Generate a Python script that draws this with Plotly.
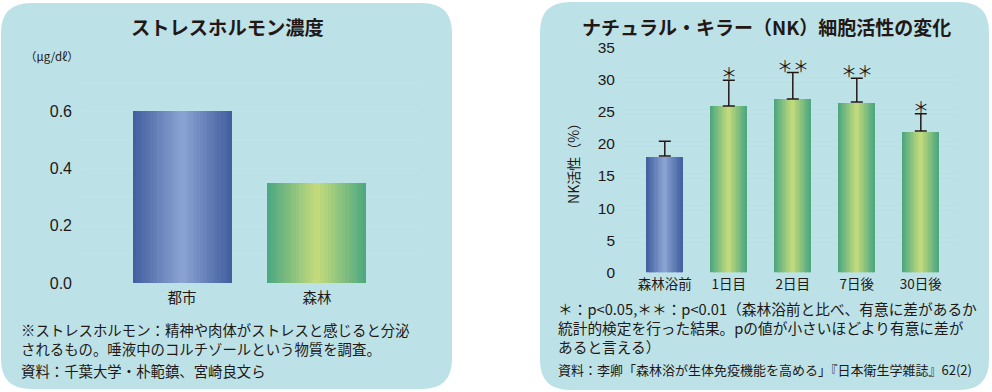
import plotly.graph_objects as go

# ---------------- data ----------------
stress_categories = ["都市", "森林"]
stress_values = [0.60, 0.35]
stress_tickvals = [0.0, 0.2, 0.4, 0.6]
stress_ticktext = ["0.0", "0.2", "0.4", "0.6"]
stress_minor_grid = [0.1, 0.3, 0.5, 0.7]

nk_categories = ["森林浴前", "1日目", "2日目", "7日後", "30日後"]
nk_values = [18.1, 25.9, 27.0, 26.5, 22.0]
nk_errors = [2.3, 4.0, 4.1, 3.7, 2.7]
nk_signif = ["", "＊", "＊＊", "＊＊", "＊"]
nk_tickvals = [0, 5, 10, 15, 20, 25, 30, 35]

# ---------------- styles ----------------
W, H = 992, 392
PANEL = "#BCE2E8"
GRID = "#BEE3EA"
INK = "#231815"
JP = "Noto Sans CJK JP"
NUM = "Liberation Sans, Arial, sans-serif"
BLUE = ((64, 94, 158), (140, 164, 212))
GREEN = ((74, 166, 128), (198, 220, 124))


def px_x(x):
    return x / W


def px_y(y):
    return 1 - y / H


def rounded_rect(x0, y0, x1, y1, r):
    rx, ry = r / W, r / H
    X0, X1 = px_x(x0), px_x(x1)
    Y0, Y1 = px_y(y1), px_y(y0)  # bottom, top in paper
    return (f"M {X0+rx} {Y1} L {X1-rx} {Y1} Q {X1} {Y1} {X1} {Y1-ry} "
            f"L {X1} {Y0+ry} Q {X1} {Y0} {X1-rx} {Y0} "
            f"L {X0+rx} {Y0} Q {X0} {Y0} {X0} {Y0+ry} "
            f"L {X0} {Y1-ry} Q {X0} {Y1} {X0+rx} {Y1} Z")


def mix(c0, c1, f):
    return "rgb(%d,%d,%d)" % tuple(round(a + (b - a) * f) for a, b in zip(c0, c1))


def gradient_bars(fig, xs, ys, width, palettes, xa, ya, n=28):
    step = width / n
    for i in range(n):
        t = (i + 0.5) / n
        f = 1 - abs(2 * t - 1)
        colors = [mix(p[0], p[1], f) for p in palettes]
        w = step * 1.25 if i < n - 1 else step
        fig.add_trace(go.Bar(
            x=xs, y=ys, xaxis=xa, yaxis=ya,
            width=[w] * len(xs), offset=[-width / 2 + i * step] * len(xs),
            marker=dict(color=colors, line=dict(width=0)),
            showlegend=False, hoverinfo="skip"))


fig = go.Figure()

# ---------- left chart ----------
sx = list(range(len(stress_categories)))
gradient_bars(fig, sx, stress_values, 0.734, [BLUE, GREEN], "x", "y")

# ---------- right chart ----------
nx = list(range(len(nk_categories)))
gradient_bars(fig, nx, nk_values, 0.5625,
              [BLUE] + [GREEN] * (len(nk_categories) - 1), "x2", "y2")
fig.add_trace(go.Scatter(
    x=nx, y=nk_values, xaxis="x2", yaxis="y2", mode="markers",
    marker=dict(size=1, color="rgba(0,0,0,0)"),
    error_y=dict(type="data", array=nk_errors, arrayminus=[0] * len(nk_errors),
                 symmetric=False, color=INK, thickness=1.5, width=6),
    showlegend=False, hoverinfo="skip"))

annotations = []
for xi, v, e, s in zip(nx, nk_values, nk_errors, nk_signif):
    if s:
        annotations.append(dict(x=xi, y=v + e, xref="x2", yref="y2", text=s,
                                showarrow=False, xanchor="center", yanchor="middle",
                                yshift=8, font=dict(family=JP, size=16, color=INK)))


def note(x, y, text, size, anchor="left", bold=False, yanchor="middle"):
    return dict(x=px_x(x), y=px_y(y), xref="paper", yref="paper",
                text=f"<b>{text}</b>" if bold else text, showarrow=False,
                xanchor=anchor, yanchor=yanchor, align="left",
                font=dict(family=JP, size=size, color=INK))


# titles
annotations.append(note(227, 27, "ストレスホルモン濃度", 19.3, "center", True))
annotations.append(note(766, 26, "ナチュラル・キラー（NK）細胞活性の変化", 19, "center", True))
# unit
annotations.append(note(52, 56, "（μg/dℓ）", 11.5, "center"))
# notes (left)
left_notes = [("※ストレスホルモン：精神や肉体がストレスと感じると分泌", 329.3),
              ("されるもの。唾液中のコルチゾールという物質を調査。", 348.8),
              ("資料：千葉大学・朴範鎮、宮崎良文ら", 370)]
for t, y in left_notes:
    annotations.append(note(19, y, t, 14.4))
# notes (right)
annotations.append(note(556, 327.5, "＊：p&lt;0.05,＊＊：p&lt;0.01（森林浴前と比べ、有意に差があるか<br>"
                                    "統計的検定を行った結果。pの値が小さいほどより有意に差が<br>"
                                    "あると言える）", 14.7))
annotations.append(note(556, 369, "資料：李卿「森林浴が生体免疫機能を高める」『日本衛生学雑誌』62(2)", 13.0))

shapes = [
    dict(type="path", xref="paper", yref="paper", path=rounded_rect(1, 3, 452, 389, 30),
         fillcolor=PANEL, line=dict(width=0), layer="below"),
    dict(type="path", xref="paper", yref="paper", path=rounded_rect(540, 2, 989, 390, 30),
         fillcolor=PANEL, line=dict(width=0), layer="below"),
]

fig.update_layout(
    width=W, height=H, autosize=False,
    margin=dict(l=0, r=0, t=0, b=0, pad=0, autoexpand=False),
    paper_bgcolor="white", plot_bgcolor="white",
    barmode="overlay", bargap=0, showlegend=False,
    shapes=shapes, annotations=annotations,
    xaxis=dict(domain=[px_x(81), px_x(418)], range=[-0.75, 1.75],
               tickvals=sx, ticktext=stress_categories, showgrid=False,
               zeroline=False, showline=False, ticks="", ticklabelstandoff=4,
               tickfont=dict(family=JP, size=14.5, color=INK), fixedrange=True,
               automargin=False),
    yaxis=dict(domain=[px_y(283), px_y(54)], range=[0, 0.8],
               tickvals=stress_tickvals, ticktext=stress_ticktext,
               showgrid=True, gridcolor=GRID, gridwidth=1.5, zeroline=False,
               minor=dict(tickvals=stress_minor_grid, showgrid=True, gridcolor=GRID,
                          gridwidth=1.5, ticks=""),
               showline=False, ticks="", ticklabelstandoff=8, automargin=False,
               tickfont=dict(family=NUM, size=16, color=INK), fixedrange=True),
    xaxis2=dict(domain=[px_x(620), px_x(957.3)], range=[-0.7, 4.57], anchor="y2",
                tickvals=nx, ticktext=nk_categories, showgrid=False,
                zeroline=False, showline=False, ticks="", ticklabelstandoff=2,
                tickfont=dict(family=JP, size=13.5, color=INK), fixedrange=True,
                automargin=False),
    yaxis2=dict(domain=[px_y(272.3), px_y(47.5)], range=[0, 35], anchor="x2",
                tickvals=nk_tickvals, showgrid=True, gridcolor=GRID, gridwidth=1.5,
                zeroline=False, showline=False, ticks="", ticklabelstandoff=4,
                tickfont=dict(family=NUM, size=15.5, color=INK), fixedrange=True,
                automargin=False,
                title=dict(text="NK活性（%）", standoff=14,
                           font=dict(family=JP, size=14, color=INK))),
)

fig.write_html("out.html", config={"displayModeBar": False, "responsive": False},
               post_script="document.body.style.margin='0';document.body.style.overflow='hidden';")
